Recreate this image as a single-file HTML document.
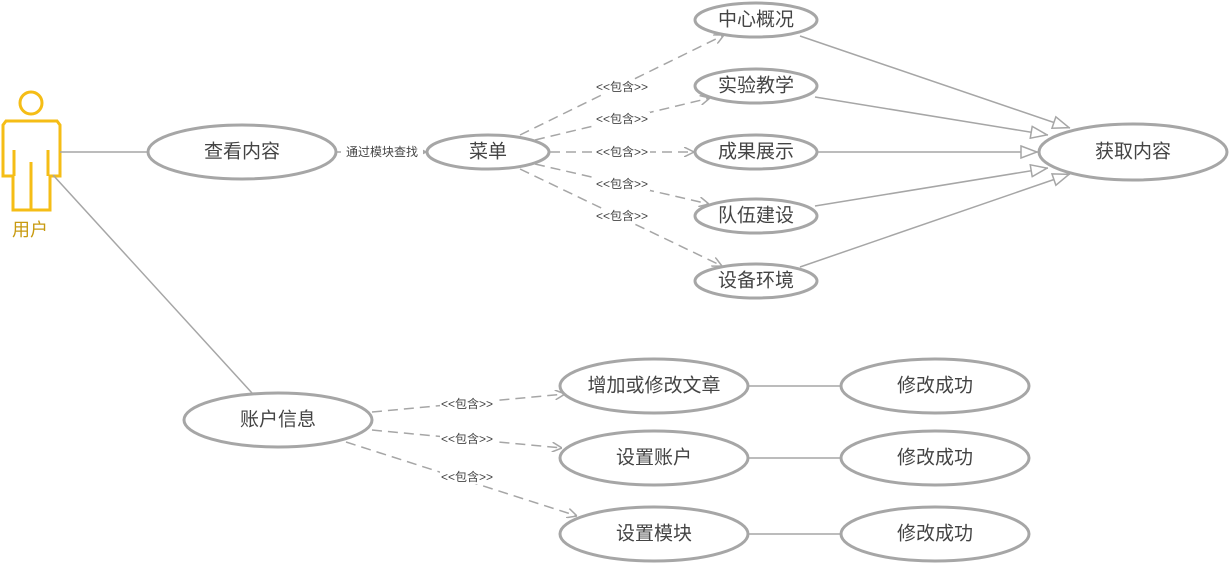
<!DOCTYPE html>
<html><head><meta charset="utf-8"><style>
html,body{margin:0;padding:0;background:#fff;}
svg{display:block;}
text{font-family:"Liberation Sans","Noto Sans CJK SC",sans-serif;fill:#444;}
.e{fill:#fff;stroke:#a6a6a6;stroke-width:3;}
.l{stroke:#a6a6a6;stroke-width:1.5;fill:none;}
.d{stroke:#a6a6a6;stroke-width:1.5;fill:none;stroke-dasharray:10,6;}
.t{font-size:19px;text-anchor:middle;dominant-baseline:central;}
.s{font-size:12px;text-anchor:middle;dominant-baseline:central;}
</style></head><body>
<svg width="1230" height="565" viewBox="0 0 1230 565" xmlns="http://www.w3.org/2000/svg">
<defs>
<marker id="oa" viewBox="0 0 10 10" refX="10" refY="5" markerWidth="10" markerHeight="10" markerUnits="userSpaceOnUse" orient="auto"><path d="M0,0 L10,5 L0,10" fill="none" stroke="#a6a6a6" stroke-width="1.5"/></marker>
<marker id="tri" viewBox="0 0 18 14" refX="18" refY="7" markerWidth="18" markerHeight="14" markerUnits="userSpaceOnUse" orient="auto"><path d="M1,1 L17,7 L1,13 Z" fill="#fff" stroke="#a6a6a6" stroke-width="1.5"/></marker>
</defs>
<g stroke="#f5bd16" stroke-width="3" fill="none">
<circle cx="31" cy="103" r="11"/>
<path d="M6,121 L57,121 L60,125 L60,176 L50,176 L50,210 L13,210 L13,176 L3,176 L3,125 Z"/>
<line x1="14" y1="150" x2="14" y2="176"/><line x1="48" y1="150" x2="48" y2="176"/>
<line x1="31" y1="162" x2="31" y2="210"/>
</g>
<text x="30" y="230" class="t" style="fill:#c89a10;font-size:18px">用户</text>
<line class="l" x1="60" y1="152" x2="148" y2="152"/>
<line class="l" x1="53" y1="175" x2="252" y2="393"/>
<line class="l" x1="336" y1="152" x2="426" y2="152" marker-end="url(#oa)"/>
<rect x="341" y="144" width="82" height="16" fill="#fff"/>
<text x="382" y="152" class="s">通过模块查找</text>
<line class="d" x1="520" y1="135" x2="724" y2="35" marker-end="url(#oa)"/>
<line class="d" x1="535" y1="140" x2="710" y2="98" marker-end="url(#oa)"/>
<line class="d" x1="550" y1="152" x2="694" y2="152" marker-end="url(#oa)"/>
<line class="d" x1="535" y1="164" x2="709" y2="204" marker-end="url(#oa)"/>
<line class="d" x1="520" y1="169" x2="722" y2="266" marker-end="url(#oa)"/>
<g>
<rect x="594" y="80" width="56" height="14" fill="#fff"/><text x="622" y="87" class="s">&lt;&lt;包含&gt;&gt;</text>
<rect x="594" y="112" width="56" height="14" fill="#fff"/><text x="622" y="119" class="s">&lt;&lt;包含&gt;&gt;</text>
<rect x="594" y="145" width="56" height="14" fill="#fff"/><text x="622" y="152" class="s">&lt;&lt;包含&gt;&gt;</text>
<rect x="594" y="177" width="56" height="14" fill="#fff"/><text x="622" y="184" class="s">&lt;&lt;包含&gt;&gt;</text>
<rect x="594" y="209" width="56" height="14" fill="#fff"/><text x="622" y="216" class="s">&lt;&lt;包含&gt;&gt;</text>
</g>
<line class="l" x1="800" y1="36" x2="1070" y2="128" marker-end="url(#tri)"/>
<line class="l" x1="815" y1="97" x2="1048" y2="135" marker-end="url(#tri)"/>
<line class="l" x1="818" y1="152" x2="1038" y2="152" marker-end="url(#tri)"/>
<line class="l" x1="815" y1="206" x2="1048" y2="168" marker-end="url(#tri)"/>
<line class="l" x1="800" y1="267" x2="1070" y2="174" marker-end="url(#tri)"/>
<line class="d" x1="372" y1="412" x2="565" y2="394" marker-end="url(#oa)"/>
<line class="d" x1="372" y1="430" x2="562" y2="448" marker-end="url(#oa)"/>
<line class="d" x1="346" y1="442" x2="577" y2="516" marker-end="url(#oa)"/>
<rect x="440" y="397" width="54" height="14" fill="#fff"/><text x="467" y="404" class="s">&lt;&lt;包含&gt;&gt;</text>
<rect x="440" y="432" width="54" height="14" fill="#fff"/><text x="467" y="439" class="s">&lt;&lt;包含&gt;&gt;</text>
<rect x="440" y="470" width="54" height="14" fill="#fff"/><text x="467" y="477" class="s">&lt;&lt;包含&gt;&gt;</text>
<line class="l" x1="748" y1="386" x2="840" y2="386"/>
<line class="l" x1="748" y1="458" x2="840" y2="458"/>
<line class="l" x1="748" y1="534" x2="840" y2="534"/>
<ellipse class="e" cx="242" cy="152" rx="94" ry="27"/><text x="242" y="152" class="t">查看内容</text>
<ellipse class="e" cx="488" cy="152" rx="61" ry="17"/><text x="488" y="152" class="t">菜单</text>
<ellipse class="e" cx="756" cy="20" rx="61" ry="17"/><text x="756" y="20" class="t">中心概况</text>
<ellipse class="e" cx="756" cy="86" rx="61" ry="17"/><text x="756" y="86" class="t">实验教学</text>
<ellipse class="e" cx="756" cy="152" rx="61" ry="17"/><text x="756" y="152" class="t">成果展示</text>
<ellipse class="e" cx="756" cy="216" rx="61" ry="17"/><text x="756" y="216" class="t">队伍建设</text>
<ellipse class="e" cx="756" cy="281" rx="61" ry="17"/><text x="756" y="281" class="t">设备环境</text>
<ellipse class="e" cx="1133" cy="152" rx="94" ry="28"/><text x="1133" y="152" class="t">获取内容</text>
<ellipse class="e" cx="278" cy="420" rx="94" ry="27"/><text x="278" y="420" class="t">账户信息</text>
<ellipse class="e" cx="654" cy="386" rx="94" ry="27"/><text x="654" y="386" class="t">增加或修改文章</text>
<ellipse class="e" cx="654" cy="458" rx="94" ry="27"/><text x="654" y="458" class="t">设置账户</text>
<ellipse class="e" cx="654" cy="534" rx="94" ry="27"/><text x="654" y="534" class="t">设置模块</text>
<ellipse class="e" cx="935" cy="386" rx="94" ry="27"/><text x="935" y="386" class="t">修改成功</text>
<ellipse class="e" cx="935" cy="458" rx="94" ry="27"/><text x="935" y="458" class="t">修改成功</text>
<ellipse class="e" cx="935" cy="534" rx="94" ry="27"/><text x="935" y="534" class="t">修改成功</text>
</svg>
</body></html>
